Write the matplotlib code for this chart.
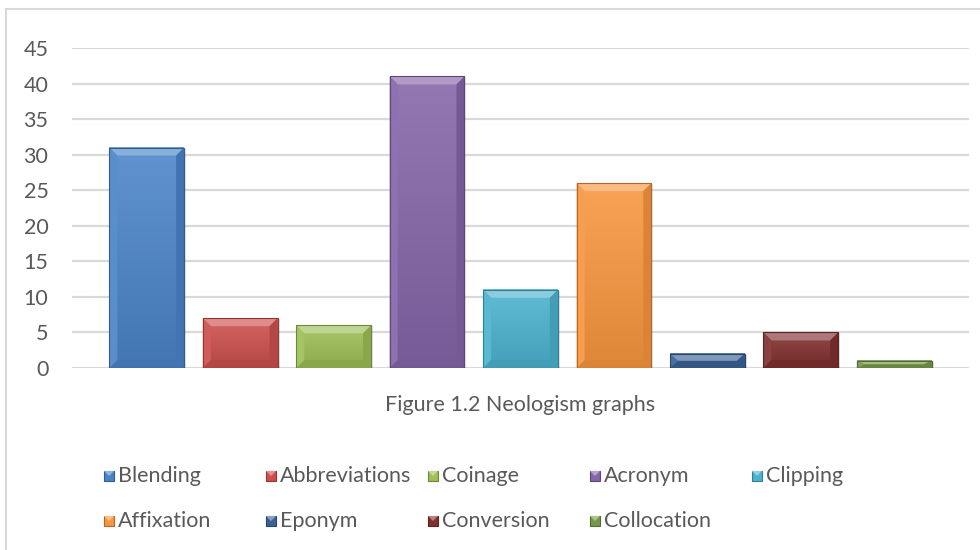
import matplotlib.pyplot as plt
import matplotlib.colors as mcolors
from matplotlib.patches import Polygon, Rectangle
from matplotlib.lines import Line2D
import numpy as np

# data
categories = ['Blending', 'Abbreviations', 'Coinage', 'Acronym', 'Clipping',
              'Affixation', 'Eponym', 'Conversion', 'Collocation']
values = [31, 7, 6, 41, 11, 26, 2, 5, 1]
colors = ['#4A84C8', '#CC4F4C', '#9DBF55', '#8465A8', '#4BB2CE',
          '#F8963F', '#3A6296', '#80302E', '#76984A']
yticks = [0, 5, 10, 15, 20, 25, 30, 35, 40, 45]
title = 'Figure 1.2 Neologism graphs'

plt.rcParams['font.family'] = ['Lato', 'DejaVu Sans']
txtcol = '#595959'
fsize = 15.5

W, H = 980, 550
fig = plt.figure(figsize=(W / 100, H / 100), dpi=100)
ax = fig.add_axes([72 / W, 1 - 368 / H, (969 - 72) / W, (368 - 48) / H])

x = np.arange(len(categories))
bw = 0.8
xlim = (-0.8, len(categories) - 1 + 0.8)
ylim = (0, 45)

# gridlines
for t in yticks:
    ax.axhline(t, color='#D9D9D9', lw=1.6, zorder=0)

# pixel -> data conversion for bevel size
px_x = (xlim[1] - xlim[0]) / (969 - 72)
px_y = (ylim[1] - ylim[0]) / (368 - 48)


def mix(c, other, f):
    c = np.array(mcolors.to_rgb(c))
    o = np.array(mcolors.to_rgb(other))
    return tuple(c * (1 - f) + o * f)


bevel = 8
for xi, v, c in zip(x, values, colors):
    x0, x1 = xi - bw / 2, xi + bw / 2
    # soft shadow
    ax.add_patch(Rectangle((x0 + 2 * px_x, -1 * px_y), bw, v, color='#000000',
                           alpha=0.10, lw=0, zorder=1))
    # face gradient
    top = np.array(mix(c, 'white', 0.12))
    bot = np.array(mix(c, 'black', 0.10))
    g = np.linspace(0, 1, 50)[:, None, None]
    img = top * (1 - g) + bot * g
    ax.imshow(img, extent=(x0, x1, 0, v), aspect='auto', zorder=2,
              interpolation='bilinear', origin='upper')
    bx = min(bevel * px_x, bw / 2)
    by = min(bevel * px_y, v / 2)
    faces = [
        ([(x0, v), (x1, v), (x1 - bx, v - by), (x0 + bx, v - by)], mix(c, 'white', 0.35)),
        ([(x0, 0), (x1, 0), (x1 - bx, by), (x0 + bx, by)], mix(c, 'black', 0.12)),
        ([(x0, 0), (x0, v), (x0 + bx, v - by), (x0 + bx, by)], mix(c, 'white', 0.08)),
        ([(x1, 0), (x1, v), (x1 - bx, v - by), (x1 - bx, by)], mix(c, 'black', 0.12)),
    ]
    for pts, fc in faces:
        ax.add_patch(Polygon(pts, closed=True, fc=fc, ec='none', zorder=3))
    ax.add_patch(Rectangle((x0, 0), bw, v, fc='none', ec=mix(c, 'black', 0.3),
                           lw=0.8, zorder=4))

ax.set_xlim(*xlim)
ax.set_ylim(*ylim)
ax.set_yticks(yticks)
ax.set_xticks([])
ax.tick_params(axis='y', length=0, pad=17, labelsize=fsize, labelcolor=txtcol)
for s in ax.spines.values():
    s.set_visible(False)
ax.patch.set_alpha(0)

# caption under plot
fig.text((72 + 969) / 2 / W, 1 - 405 / H, title, ha='center', va='center',
         fontsize=fsize, color=txtcol)

# legend (uniform columns like Excel)
for i, (name, c) in enumerate(zip(categories, colors)):
    col, row = i % 5, i // 5
    lx = 104 + col * 162
    ly = 476 + row * 45
    sq = 10
    fig.add_artist(Rectangle((lx / W, 1 - (ly + sq / 2) / H), sq / W, sq / H,
                             transform=fig.transFigure, fc=c,
                             ec=mix(c, 'black', 0.3), lw=0.8))
    fig.add_artist(Polygon([(lx / W, 1 - (ly - sq / 2) / H),
                            ((lx + sq) / W, 1 - (ly - sq / 2) / H),
                            ((lx + sq / 2) / W, 1 - ly / H)],
                           transform=fig.transFigure, fc=mix(c, 'white', 0.4),
                           ec='none'))
    fig.text((lx + sq + 4) / W, 1 - ly / H, name, ha='left', va='center',
             fontsize=fsize, color=txtcol)

# chart border (top and left visible)
fig.add_artist(Line2D([6 / W, 1], [1 - 9 / H, 1 - 9 / H], color='#D9D9D9',
                      lw=1.5, transform=fig.transFigure))
fig.add_artist(Line2D([6 / W, 6 / W], [1 - 9 / H, 0], color='#D9D9D9',
                      lw=1.5, transform=fig.transFigure))

fig.savefig('out.png', dpi=100, facecolor='white')
